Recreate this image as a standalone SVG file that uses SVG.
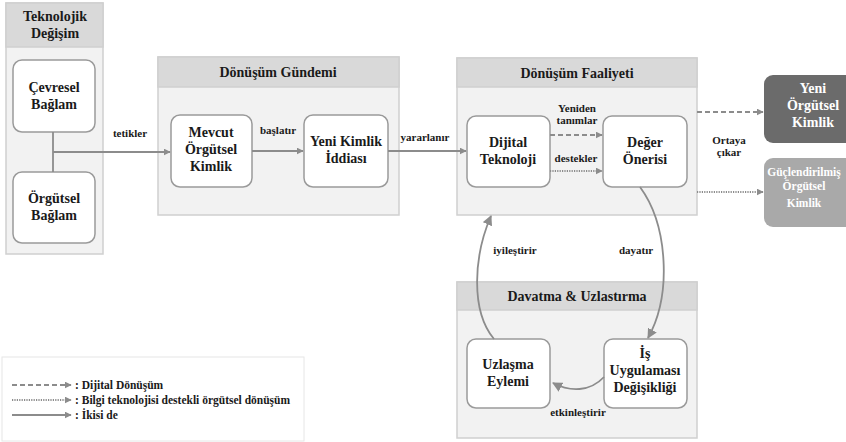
<svg xmlns="http://www.w3.org/2000/svg" width="846" height="442" viewBox="0 0 846 442" font-family="'Liberation Serif', 'DejaVu Serif', serif">
<defs>
<marker id="ah" viewBox="0 0 10 10" refX="9" refY="5" markerWidth="7" markerHeight="7" orient="auto" markerUnits="userSpaceOnUse">
<path d="M0,0 L10,5 L0,10 z" fill="#8c8c8c"/>
</marker>
<marker id="ahb" viewBox="0 0 10 10" refX="9" refY="5" markerWidth="10" markerHeight="10" orient="auto" markerUnits="userSpaceOnUse">
<path d="M0,0 L10,5 L0,10 z" fill="#8c8c8c"/>
</marker>
<style>
text{font-family:'Liberation Serif','DejaVu Serif',serif;font-weight:bold;text-anchor:middle;fill:#1a1a1a}
.nt{font-size:14px}
.hd{font-size:14px}
.lb{font-size:11px}
.cont{fill:#f2f2f2;stroke:#cfcfcf;stroke-width:1.5}
.head{fill:#d9d9d9;stroke:#cfcfcf;stroke-width:1.5}
.box{fill:#fff;stroke:#9a9a9a;stroke-width:1.5}
.c{fill:none;stroke:#8c8c8c;stroke-width:1.8}
.dash{stroke-dasharray:5,3}
.dot{stroke-dasharray:1.2,1.2}
.wt{fill:#fff}
.lg{text-anchor:start;font-size:11.5px}
</style>
</defs>

<g id="teknolojik-degisim">
<rect class="cont" x="6" y="3" width="97" height="251"/>
<rect class="head" x="6" y="3" width="97" height="44"/>
<text class="hd" x="55" y="21">Teknolojik</text>
<text class="hd" x="55" y="38">Değişim</text>
</g>
<g id="cevresel-baglam">
<rect class="box" x="13" y="60" width="82" height="72" rx="9"/>
<text class="nt" x="54" y="92">Çevresel</text>
<text class="nt" x="54" y="109">Bağlam</text>
</g>
<g id="orgutsel-baglam">
<rect class="box" x="13" y="172" width="82" height="71" rx="9"/>
<text class="nt" x="54" y="203">Örgütsel</text>
<text class="nt" x="54" y="220">Bağlam</text>
</g>

<g id="donusum-gundemi">
<rect class="cont" x="158" y="57" width="241" height="158"/>
<rect class="head" x="158" y="57" width="241" height="30"/>
<text class="hd" x="278" y="77">Dönüşüm Gündemi</text>
</g>
<g id="mevcut-orgutsel-kimlik">
<rect class="box" x="171" y="115" width="81" height="72" rx="9"/>
<text class="nt" x="211" y="137">Mevcut</text>
<text class="nt" x="211" y="154">Örgütsel</text>
<text class="nt" x="211" y="171">Kimlik</text>
</g>
<g id="yeni-kimlik-iddiasi">
<rect class="box" x="304" y="115" width="84" height="72" rx="9"/>
<text class="nt" x="346" y="146">Yeni Kimlik</text>
<text class="nt" x="346" y="163">İddiası</text>
</g>

<g id="donusum-faaliyeti">
<rect class="cont" x="457" y="58" width="240" height="157"/>
<rect class="head" x="457" y="58" width="240" height="29"/>
<text class="hd" x="577" y="78">Dönüşüm Faaliyeti</text>
</g>
<g id="dijital-teknoloji">
<rect class="box" x="467" y="116" width="83" height="71" rx="9"/>
<text class="nt" x="508" y="147">Dijital</text>
<text class="nt" x="508" y="164">Teknoloji</text>
</g>
<g id="deger-onerisi">
<rect class="box" x="603" y="116" width="84" height="71" rx="9"/>
<text class="nt" x="645" y="147">Değer</text>
<text class="nt" x="645" y="164">Önerisi</text>
</g>

<g id="yeni-orgutsel-kimlik">
<rect x="764" y="75" width="100" height="68" rx="9" fill="#6b6b6b"/>
<text class="nt wt" x="813" y="93">Yeni</text>
<text class="nt wt" x="813" y="110">Örgütsel</text>
<text class="nt wt" x="813" y="127">Kimlik</text>
</g>
<g id="guclendirilmis-orgutsel-kimlik">
<rect x="764" y="158" width="100" height="69" rx="9" fill="#a9a9a9"/>
<text class="wt" x="804" y="176" font-size="11.5">Güçlendirilmiş</text>
<text class="wt" x="804" y="190" font-size="11.5">Örgütsel</text>
<text class="wt" x="804" y="207" font-size="11.5">Kimlik</text>
</g>

<g id="davatma-uzlastirma">
<rect class="cont" x="457" y="282" width="240" height="156"/>
<rect class="head" x="457" y="282" width="240" height="28"/>
<text class="hd" x="577" y="301">Davatma &amp; Uzlastırma</text>
</g>
<g id="uzlasma-eylemi">
<rect class="box" x="467" y="339" width="83" height="69" rx="9"/>
<text class="nt" x="508" y="369">Uzlaşma</text>
<text class="nt" x="508" y="386">Eylemi</text>
</g>
<g id="is-uygulamasi-degisikligi">
<rect class="box" x="604" y="339" width="83" height="69" rx="9"/>
<text class="nt" x="645" y="358">İş</text>
<text class="nt" x="645" y="375">Uygulaması</text>
<text class="nt" x="645" y="392">Değişikliği</text>
</g>

<g id="connectors">
<path class="c" d="M53 132 V172"/>
<path class="c" d="M53 152 H170" marker-end="url(#ah)"/>
<text class="lb" x="130" y="137">tetikler</text>
<path class="c" d="M252 151 H303" marker-end="url(#ah)"/>
<text class="lb" x="278" y="134">başlatır</text>
<path class="c" d="M388 151 H466" marker-end="url(#ah)"/>
<text class="lb" x="425" y="141">yararlanır</text>
<path class="c dash" d="M550 135 H602" marker-end="url(#ah)"/>
<text class="lb" x="577" y="112">Yeniden</text>
<text class="lb" x="577" y="124">tanımlar</text>
<path class="c dot" d="M550 171 H602" marker-end="url(#ah)"/>
<text class="lb" x="576" y="162">destekler</text>
<path class="c dash" d="M697 112 H763" marker-end="url(#ah)"/>
<path class="c dot" d="M697 192 H763" marker-end="url(#ah)"/>
<text class="lb" x="729" y="144" font-size="11.5">Ortaya</text>
<text class="lb" x="729" y="156" font-size="11.5">çıkar</text>
<path class="c" d="M640 187 C668 225 672 295 648 338" marker-end="url(#ahb)"/>
<text class="lb" x="636" y="254">dayatır</text>
<path class="c" d="M494 339 C470 310 474 255 491 216" marker-end="url(#ahb)"/>
<text class="lb" x="515" y="254">iyileştirir</text>
<path class="c" d="M604 377 C590 392 570 392 553 383" marker-end="url(#ahb)"/>
<text class="lb" x="578" y="416">etkinleştirir</text>
</g>

<g id="legend">
<rect x="2" y="357" width="302" height="84" fill="#fff" stroke="#e6e6e6" stroke-width="1"/>
<path class="c dash" d="M12 385 H71" marker-end="url(#ah)"/>
<path class="c dot" d="M12 400 H71" marker-end="url(#ah)"/>
<path class="c" d="M12 415 H71" marker-end="url(#ah)"/>
<text class="lg" x="75" y="389">: Dijital Dönüşüm</text>
<text class="lg" x="75" y="404">: Bilgi teknolojisi destekli örgütsel dönüşüm</text>
<text class="lg" x="75" y="419">: İkisi de</text>
</g>
</svg>
